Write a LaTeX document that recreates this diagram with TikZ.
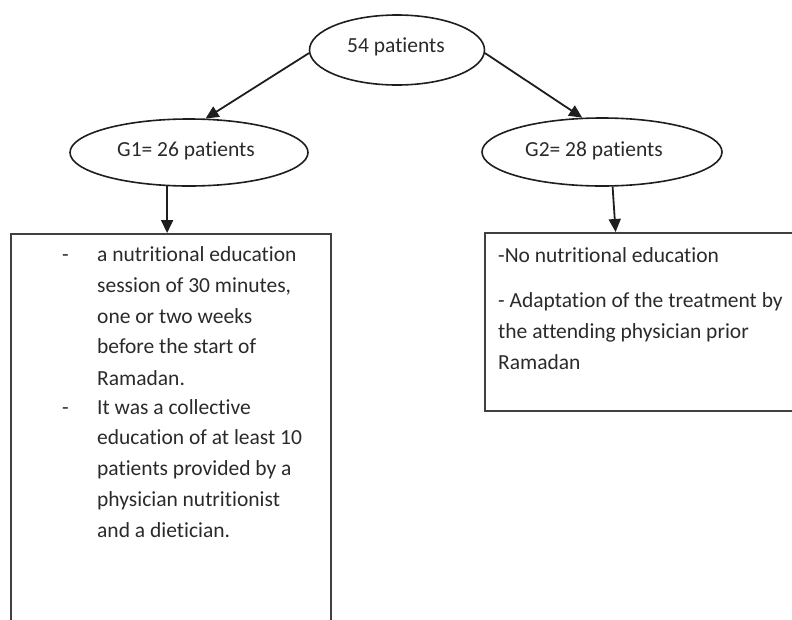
\documentclass[tikz,border=0pt]{standalone}
\usepackage{fontspec}
\setmainfont{Carlito}[Ligatures=NoCommon]
\usetikzlibrary{arrows.meta,shapes.geometric}
\definecolor{ink}{HTML}{1E1E1E}
\definecolor{txt}{HTML}{2A2A2A}
\begin{document}
\begin{tikzpicture}[x=1pt,y=-1pt,
  oval/.style={draw=ink,line width=1.6pt,ellipse,inner sep=0pt},
  boxnode/.style={draw=ink!85,line width=2pt,rectangle,inner sep=0pt,anchor=north west},
  lab/.style={text=txt,font=\fontsize{21.5}{26}\selectfont,inner sep=0pt},
  arr/.style={draw=ink,line width=1.8pt,-{Triangle[length=13pt,width=12pt]}}]
\useasboundingbox (0,0) rectangle (792,619);
\clip (0,0) rectangle (792,619);
% ellipses
\node[oval,minimum width=175pt,minimum height=70pt] (top) at (397,50) {};
\node[lab,anchor=base] (toptxt) at (396,52) {54 patients};
\node[oval,minimum width=238pt,minimum height=67pt] (g1) at (189,152.5) {};
\node[lab,anchor=base] (g1txt) at (186,156) {G1= 26 patients};
\node[oval,minimum width=240pt,minimum height=68pt] (g2) at (602,152) {};
\node[lab,anchor=base] (g2txt) at (594,156) {G2= 28 patients};
% boxes
\node[boxnode,minimum width=320pt,minimum height=430pt] (box1) at (10,233) {};
\node[boxnode,minimum width=340pt,minimum height=178pt] (box2) at (484,232) {};
% arrows
\draw[arr] (top.182) -- (g1.64);
\draw[arr] (top.358) -- (g2.120);
\draw[arr] (g1.237) -- (g1.237 |- box1.north);
\draw[arr] (g2.287) -- ([xshift=3pt]g2.287 |- box2.north);
% left box text
\node[lab,anchor=base west] (d1) at (62,261) {-};
\node[lab,anchor=base west] (d2) at (62,414) {-};
\foreach \t/\y [count=\i] in {a nutritional education/261, {session of 30 minutes,}/292, one or two weeks/323, before the start of/353, Ramadan./385, It was a collective/414, education of at least 10/444, patients provided by a/475, physician nutritionist/506, and a dietician./537}
  \node[lab,anchor=base west] (la\i) at (97,\y) {\t};
% right box text
\node[lab,anchor=base west] (r1) at (498,262) {-No nutritional education};
\node[lab,anchor=base west] (r2) at (498,307) {- Adaptation of the treatment by};
\node[lab,anchor=base west] (r3) at (498,338) {the attending physician prior};
\node[lab,anchor=base west] (r4) at (498,369) {Ramadan};
\end{tikzpicture}
\end{document}
